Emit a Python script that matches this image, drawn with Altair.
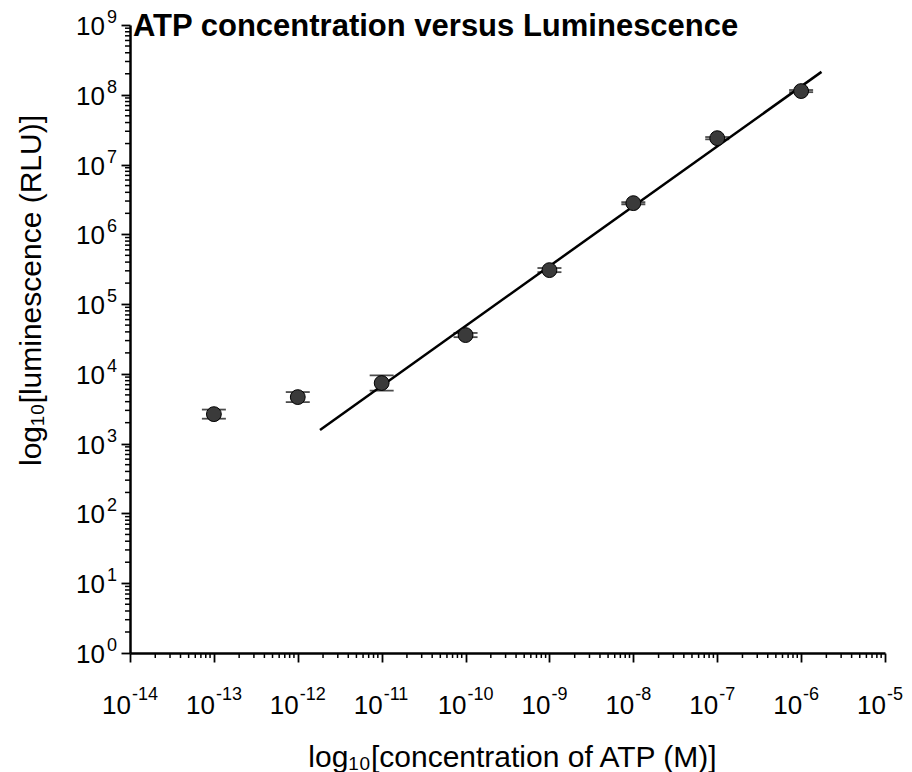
import altair as alt
import pandas as pd

# ---- data ----
conc = [1e-13, 1e-12, 1e-11, 1e-10, 1e-9, 1e-8, 1e-7, 1e-6]
lum = [2650, 4650, 7400, 36000, 307000, 2.8e6, 2.39e7, 1.13e8]
lum_low = [2280, 3940, 5750, 33600, 287000, 2.7e6, 2.3e7, 1.09e8]
lum_high = [3080, 5490, 9500, 38600, 329000, 2.9e6, 2.48e7, 1.17e8]
fit_conc = [1.84e-12, 1.75e-6]
fit_lum = [1570, 2.13e8]
x_exponents = [-14, -13, -12, -11, -10, -9, -8, -7, -6, -5]
y_exponents = [0, 1, 2, 3, 4, 5, 6, 7, 8, 9]
minor_multipliers = [2, 3, 4, 5, 6, 7, 8, 9]
title_text = "ATP concentration versus Luminescence"
x_title = "log\u2081\u2080[concentration of ATP (M)]"
y_title = "log\u2081\u2080[luminescence (RLU)]"

W, H = 755, 628
FONT = "Liberation Sans"

xscale = alt.Scale(type="log", domain=[1e-14, 1e-5], nice=False)
yscale = alt.Scale(type="log", domain=[1, 1e9], nice=False)

x_major = [10.0 ** e for e in x_exponents]
y_major = [10.0 ** e for e in y_exponents]
x_minor = [m * 10.0 ** e for e in x_exponents[:-1] for m in minor_multipliers]
y_minor = [m * 10.0 ** e for e in y_exponents[:-1] for m in minor_multipliers]

common_axis = dict(
    labels=False, grid=False, domainColor="black", domainWidth=2.5,
    tickColor="black", tickWidth=1.8, tickSize=9,
    titleFont=FONT, titleFontSize=30, titleFontWeight="normal", titleColor="black",
    titleAlign="center", titleBaseline="alphabetic",
)
xaxis = alt.Axis(values=x_major, title=x_title, titleX=382, titleY=113, **common_axis)
yaxis = alt.Axis(values=y_major, title=y_title, titleX=-90, titleY=265, titleAngle=270, **common_axis)

df = pd.DataFrame({"conc": conc, "lum": lum, "low": lum_low, "high": lum_high})
df_fit = pd.DataFrame({"conc": fit_conc, "lum": fit_lum})
df_xl = pd.DataFrame({"value": x_major, "base": ["10"] * len(x_exponents),
                      "exp": [str(e) for e in x_exponents]})
df_yl = pd.DataFrame({"value": y_major, "base": ["10"] * len(y_exponents),
                      "exp": [str(e) for e in y_exponents]})
df_xm = pd.DataFrame({"value": x_minor})
df_ym = pd.DataFrame({"value": y_minor})
df_title = pd.DataFrame({"t": [title_text]})

X = alt.X("conc:Q", scale=xscale, axis=xaxis)
Y = alt.Y("lum:Q", scale=yscale, axis=yaxis)
XL = alt.X("value:Q", scale=xscale, axis=xaxis)
YL = alt.Y("value:Q", scale=yscale, axis=yaxis)

line = alt.Chart(df_fit).mark_line(color="black", strokeWidth=2.5).encode(x=X, y=Y)

stem = alt.Chart(df).mark_rule(color="black", strokeWidth=1.6).encode(
    x=X, y=alt.Y("low:Q", scale=yscale, axis=yaxis), y2="high:Q")
cap_lo = alt.Chart(df).mark_tick(orient="horizontal", size=24, thickness=1.8, color="black").encode(
    x=X, y=alt.Y("low:Q", scale=yscale, axis=yaxis))
cap_hi = alt.Chart(df).mark_tick(orient="horizontal", size=24, thickness=1.8, color="black").encode(
    x=X, y=alt.Y("high:Q", scale=yscale, axis=yaxis))

pts = alt.Chart(df).mark_circle(size=220, color="#3a3a3a", opacity=1, stroke="black", strokeWidth=1).encode(x=X, y=Y)

x_minor_ticks = alt.Chart(df_xm).mark_rule(color="black", strokeWidth=1.5).encode(
    x=XL, y=alt.value(H), y2=alt.value(H + 5))
y_minor_ticks = alt.Chart(df_ym).mark_rule(color="black", strokeWidth=1.5).encode(
    y=YL, x=alt.value(0), x2=alt.value(-5))

xl_base = alt.Chart(df_xl).mark_text(align="right", baseline="alphabetic", font=FONT, fontSize=26, color="black", dx=1).encode(
    x=XL, y=alt.value(H + 61), text="base:N")
xl_exp = alt.Chart(df_xl).mark_text(align="left", baseline="alphabetic", font=FONT, fontSize=18, color="black", dx=2).encode(
    x=XL, y=alt.value(H + 47), text="exp:N")
yl_base = alt.Chart(df_yl).mark_text(align="right", baseline="alphabetic", font=FONT, fontSize=26, color="black", dy=10).encode(
    x=alt.value(-25), y=YL, text="base:N")
yl_exp = alt.Chart(df_yl).mark_text(align="left", baseline="alphabetic", font=FONT, fontSize=18, color="black", dy=-2).encode(
    x=alt.value(-23), y=YL, text="exp:N")

title = alt.Chart(df_title).mark_text(align="left", baseline="alphabetic", font=FONT, fontSize=31, fontWeight="bold", color="black").encode(
    x=alt.value(3), y=alt.value(11), text="t:N")

chart = alt.layer(
    line, stem, cap_lo, cap_hi, pts, x_minor_ticks, y_minor_ticks,
    xl_base, xl_exp, yl_base, yl_exp, title,
).properties(
    width=W, height=H,
    padding={"left": 130, "top": 25, "right": 27, "bottom": 119},
    autosize=alt.AutoSizeParams(type="none"),
).configure(background="white").configure_view(strokeWidth=0)

chart.save("out.html", embed_options={"renderer": "svg", "actions": False})
